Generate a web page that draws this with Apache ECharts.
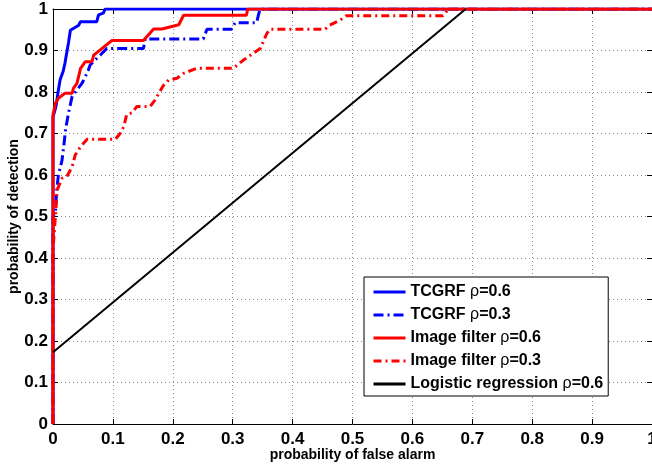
<!DOCTYPE html>
<html>
<head>
<meta charset="utf-8">
<script src="https://cdn.jsdelivr.net/npm/echarts/dist/echarts.min.js"></script>
<style>
  html, body { margin: 0; padding: 0; background: #fff; }
  #chart { width: 652px; height: 465px; }
</style>
</head>
<body>
<div id="chart"></div>
<script>
// Axis ticks (both axes share the same 0..1 range in steps of 0.1)
const xTicks = [0, 0.1, 0.2, 0.3, 0.4, 0.5, 0.6, 0.7, 0.8, 0.9, 1];
const yTicks = [0, 0.1, 0.2, 0.3, 0.4, 0.5, 0.6, 0.7, 0.8, 0.9, 1];
const xTickLabels = ['0', '0.1', '0.2', '0.3', '0.4', '0.5', '0.6', '0.7', '0.8', '0.9', '1'];
const yTickLabels = ['0', '0.1', '0.2', '0.3', '0.4', '0.5', '0.6', '0.7', '0.8', '0.9', '1'];

const seriesNames = [
  'TCGRF ρ=0.6',
  'TCGRF ρ=0.3',
  'Image filter ρ=0.6',
  'Image filter ρ=0.3',
  'Logistic regression ρ=0.6'
];

// ROC curves: [probability of false alarm, probability of detection]
const tcgrf06 = [
  [0, 0], [0, 0.74], [0.004, 0.76], [0.0055, 0.77], [0.009, 0.805], [0.012, 0.83],
  [0.017, 0.85], [0.02, 0.87], [0.023, 0.895], [0.026, 0.92], [0.029, 0.949],
  [0.043, 0.961], [0.0455, 0.969], [0.073, 0.969], [0.076, 0.986], [0.084, 0.99],
  [0.087, 1], [1, 1]
];
const tcgrf03 = [
  [0, 0], [0, 0.5], [0.004, 0.51], [0.006, 0.56], [0.009, 0.6], [0.015, 0.635],
  [0.018, 0.67], [0.021, 0.71], [0.026, 0.75], [0.032, 0.79], [0.04, 0.805],
  [0.048, 0.82], [0.054, 0.837], [0.059, 0.853], [0.062, 0.865], [0.07, 0.877],
  [0.079, 0.889], [0.09, 0.905], [0.151, 0.905], [0.154, 0.928], [0.251, 0.928],
  [0.257, 0.951], [0.298, 0.951], [0.304, 0.967], [0.34, 0.967], [0.343, 0.986],
  [0.346, 1], [1, 1]
];
const imgFilter06 = [
  [0, 0], [0, 0.745], [0.004, 0.773], [0.009, 0.785], [0.02, 0.797], [0.032, 0.797],
  [0.034, 0.809], [0.04, 0.821], [0.046, 0.857], [0.054, 0.873], [0.065, 0.873],
  [0.068, 0.889], [0.082, 0.905], [0.098, 0.924], [0.151, 0.924], [0.168, 0.952],
  [0.182, 0.952], [0.21, 0.962], [0.218, 0.985], [0.323, 0.985], [0.325, 1], [1, 1]
];
const imgFilter03 = [
  [0, 0], [0, 0.42], [0.004, 0.5], [0.007, 0.564], [0.015, 0.592], [0.023, 0.596],
  [0.032, 0.62], [0.037, 0.648], [0.046, 0.668], [0.057, 0.686], [0.104, 0.686],
  [0.112, 0.7], [0.118, 0.716], [0.123, 0.745], [0.132, 0.75], [0.14, 0.765],
  [0.162, 0.765], [0.17, 0.78], [0.184, 0.815], [0.193, 0.829], [0.207, 0.833],
  [0.218, 0.845], [0.24, 0.857], [0.301, 0.857], [0.318, 0.877], [0.346, 0.905],
  [0.357, 0.941], [0.362, 0.951], [0.454, 0.951], [0.462, 0.961], [0.479, 0.973],
  [0.49, 0.984], [0.651, 0.984], [0.657, 0.994], [0.66, 1], [1, 1]
];
const logistic06 = [[0, 0.173], [0.689, 1]];

const FONT = '"Liberation Sans", Arial, Helvetica, sans-serif';

const labelFor = (ticks, labels) => v => {
  const i = ticks.findIndex(t => Math.abs(t - v) < 1e-9);
  return i >= 0 ? labels[i] : '';
};

const dashDotBlue = [10, 4, 2, 4];
const dashDotRed = [8, 4, 2, 4];

function lineSeries(name, data, color, width, type, z) {
  return {
    name: name,
    type: 'line',
    data: data,
    symbol: 'none',
    z: z,
    animation: false,
    lineStyle: { color: color, width: width, type: type },
    itemStyle: { color: color }
  };
}

const chart = echarts.init(document.getElementById('chart'), null, { renderer: 'canvas' });

chart.setOption({
  backgroundColor: '#fff',
  animation: false,
  grid: { left: 53, top: 9, right: 0, bottom: 41, containLabel: false, outerBoundsMode: 'none' },
  legend: {
    data: seriesNames,
    orient: 'vertical',
    left: 364,
    top: 277,
    padding: [7, 5, 4, 8],
    itemWidth: 32,
    itemHeight: 16,
    itemGap: 7,
    backgroundColor: '#fff',
    borderColor: '#000',
    borderWidth: 1,
    borderRadius: 0,
    itemStyle: { opacity: 0 },
    lineStyle: { width: 3 },
    formatter: name => name.replace('ρ', '{r|ρ}'),
    textStyle: {
      color: '#000',
      fontFamily: FONT,
      fontWeight: 'bold',
      fontSize: 16,
      rich: { r: { fontFamily: FONT, fontWeight: 'normal', fontSize: 16, color: '#000' } }
    }
  },
  xAxis: [
    {
      type: 'value', min: 0, max: 1, interval: 0.1,
      name: 'probability of false alarm',
      nameLocation: 'middle',
      nameGap: 24,
      nameMoveOverlap: false,
      nameTextStyle: { color: '#000', fontFamily: FONT, fontWeight: 'bold', fontSize: 14 },
      axisLine: { show: true, onZero: false, lineStyle: { color: '#000', width: 1 } },
      axisTick: { show: true, inside: true, length: 5, lineStyle: { color: '#000', width: 1 } },
      axisLabel: {
        color: '#000', fontFamily: FONT, fontWeight: 'bold', fontSize: 17, margin: 7,
        formatter: labelFor(xTicks, xTickLabels)
      },
      splitLine: { show: true, lineStyle: { color: '#8a8a8a', width: 1, type: [1, 3] } }
    },
    {
      type: 'value', min: 0, max: 1, interval: 0.1, position: 'top',
      axisLine: { show: true, onZero: false, lineStyle: { color: '#000', width: 1 } },
      axisTick: { show: true, inside: true, length: 5, lineStyle: { color: '#000', width: 1 } },
      axisLabel: { show: false },
      splitLine: { show: false }
    }
  ],
  yAxis: [
    {
      type: 'value', min: 0, max: 1, interval: 0.1,
      name: 'probability of detection',
      nameLocation: 'middle',
      nameGap: 32,
      nameMoveOverlap: false,
      nameTextStyle: { color: '#000', fontFamily: FONT, fontWeight: 'bold', fontSize: 14 },
      axisLine: { show: true, onZero: false, lineStyle: { color: '#000', width: 1 } },
      axisTick: { show: true, inside: true, length: 5, lineStyle: { color: '#000', width: 1 } },
      axisLabel: {
        color: '#000', fontFamily: FONT, fontWeight: 'bold', fontSize: 17, margin: 5,
        formatter: labelFor(yTicks, yTickLabels)
      },
      splitLine: { show: true, lineStyle: { color: '#8a8a8a', width: 1, type: [1, 3] } }
    },
    {
      type: 'value', min: 0, max: 1, interval: 0.1, position: 'right',
      axisLine: { show: true, onZero: false, lineStyle: { color: '#000', width: 1 } },
      axisTick: { show: true, inside: true, length: 5, lineStyle: { color: '#000', width: 1 } },
      axisLabel: { show: false },
      splitLine: { show: false }
    }
  ],
  series: [
    lineSeries(seriesNames[0], tcgrf06, '#0000ff', 3, 'solid', 2),
    lineSeries(seriesNames[1], tcgrf03, '#0000ff', 3, dashDotBlue, 3),
    lineSeries(seriesNames[2], imgFilter06, '#ff0000', 3, 'solid', 4),
    lineSeries(seriesNames[3], imgFilter03, '#ff0000', 3, dashDotRed, 5),
    lineSeries(seriesNames[4], logistic06, '#000000', 2, 'solid', 6)
  ]
});
</script>
</body>
</html>
